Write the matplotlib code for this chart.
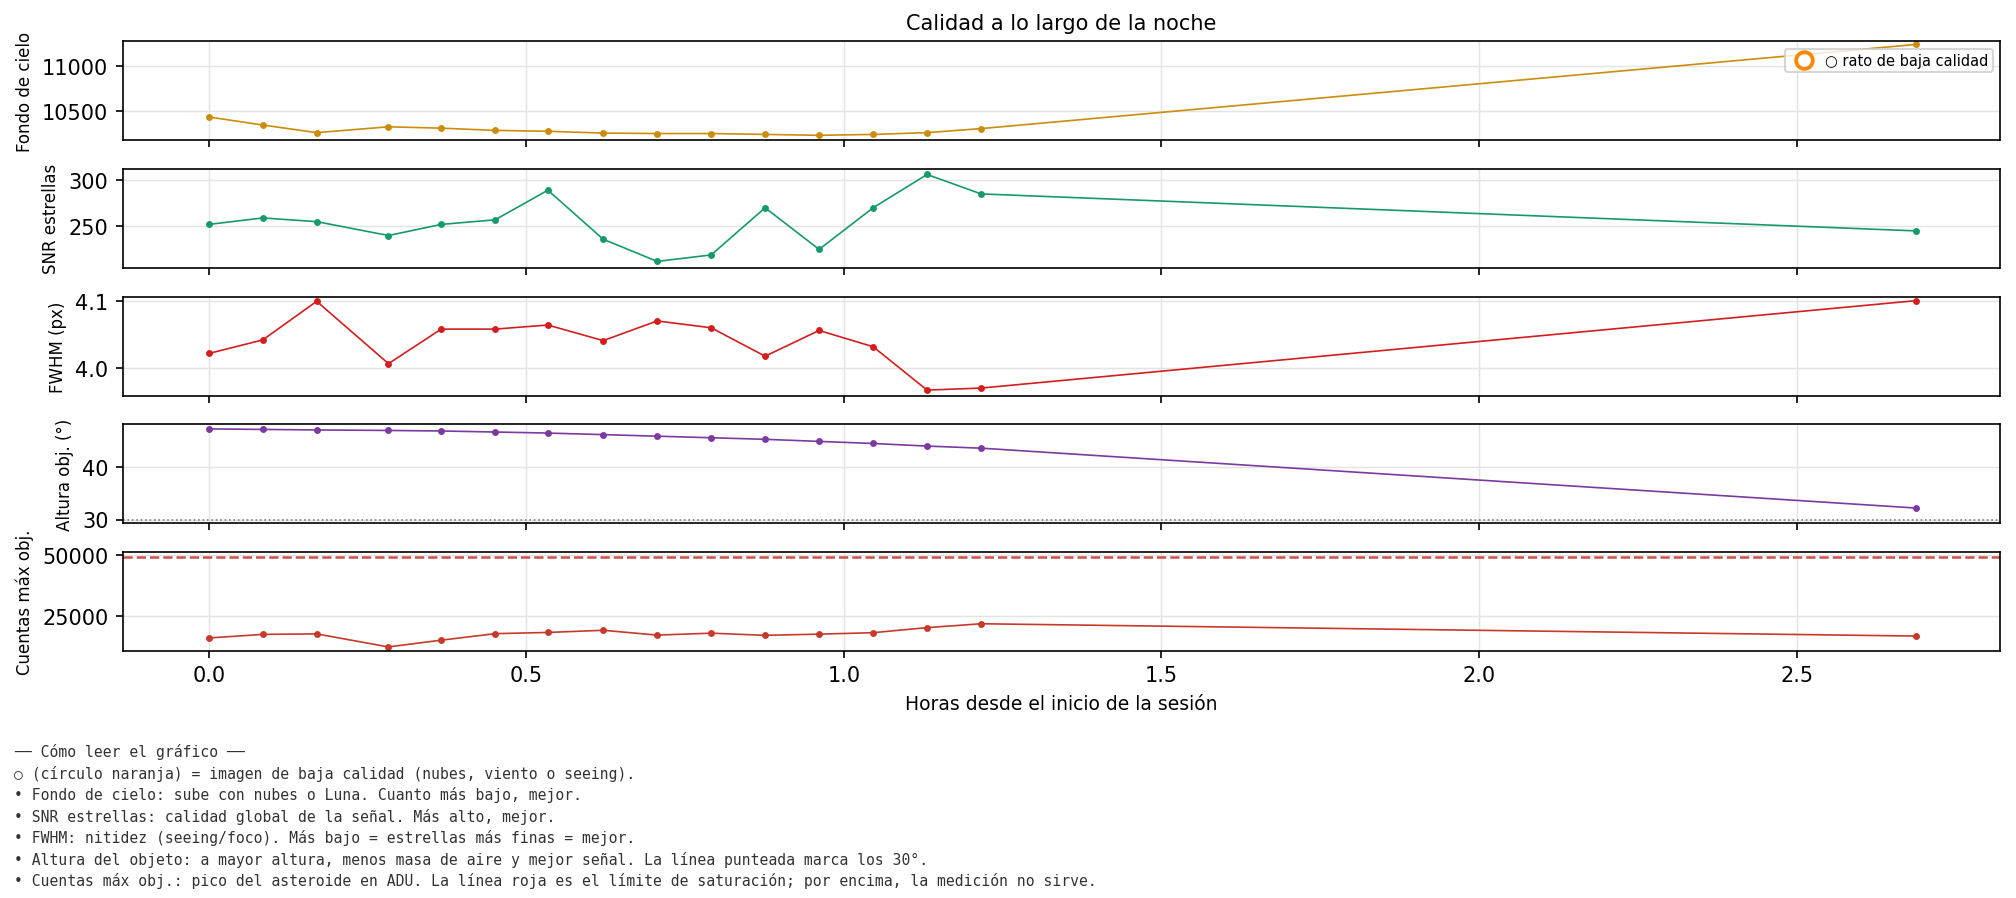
import matplotlib
matplotlib.use("Agg")
import matplotlib.pyplot as plt
from matplotlib.lines import Line2D

# horas desde el inicio
horas = [0, 0.085, 0.17, 0.283, 0.366, 0.451, 0.534, 0.621, 0.706, 0.791,
         0.876, 0.961, 1.046, 1.131, 1.216, 2.688]
fondo = [10430, 10340, 10255, 10320, 10305, 10280, 10270, 10250, 10245, 10245,
         10235, 10225, 10235, 10255, 10300, 11240]
snr = [252, 259, 255, 240, 252, 257, 289, 236, 212, 219, 270, 225, 270, 306, 285, 245]
fwhm = [4.022, 4.042, 4.099, 4.007, 4.058, 4.058, 4.064, 4.041, 4.070, 4.060,
        4.018, 4.056, 4.032, 3.968, 3.971, 4.100]
altura = [47.4, 47.3, 47.2, 47.1, 47.0, 46.8, 46.6, 46.3, 46.0, 45.7,
          45.4, 45.0, 44.6, 44.1, 43.7, 32.2]
cuentas = [15800, 17300, 17500, 12100, 14900, 17600, 18100, 19000, 17000, 17800,
           16900, 17400, 18000, 20100, 21700, 16600]

paneles = [
    (fondo, "Fondo de cielo", "#cc8c0c", (10170, 11275)),
    (snr, "SNR estrellas", "#179a6a", (205, 312)),
    (fwhm, "FWHM (px)", "#d41e1e", (3.96, 4.106)),
    (altura, "Altura obj. (°)", "#7a3aa0", (29.3, 48.3)),
    (cuentas, "Cuentas máx obj.", "#c63a2c", (10500, 51500)),
]

fig, axes = plt.subplots(5, 1, figsize=(13.44, 5.993), dpi=150, sharex=True)
fig.subplots_adjust(left=0.061, right=0.992, top=0.953, bottom=0.275, hspace=0.29)

for ax, (vals, lab, col, yl) in zip(axes, paneles):
    ax.plot(horas, vals, color=col, lw=0.8, marker="o", ms=2.3)
    ax.set_ylabel(lab, fontsize=8)
    ax.set_ylim(*yl)
    ax.grid(True, color="#e4e4e4", lw=0.7)
    ax.set_axisbelow(True)

axes[0].set_yticks([10500, 11000])
axes[1].set_yticks([250, 300])
axes[2].set_yticks([4.0, 4.1])
axes[3].set_yticks([30, 40])
axes[4].set_yticks([25000, 50000])
axes[3].axhline(30, color="gray", ls=":", lw=0.8)
axes[4].axhline(49500, color="#d0504a", ls="--", lw=1.2)

axes[0].set_title("Calidad a lo largo de la noche", fontsize=10)
h = Line2D([], [], ls="none", marker="o", ms=8, mfc="none", mec="#ff8800", mew=1.8)
axes[0].legend([h], ["○ rato de baja calidad"], loc="upper right", fontsize=7,
               handletextpad=0.4, borderpad=0.3)
axes[4].set_xlabel("Horas desde el inicio de la sesión", fontsize=9)
axes[4].set_xlim(-0.135, 2.82)

nota = ("── Cómo leer el gráfico ──\n"
        "○ (círculo naranja) = imagen de baja calidad (nubes, viento o seeing).\n"
        "• Fondo de cielo: sube con nubes o Luna. Cuanto más bajo, mejor.\n"
        "• SNR estrellas: calidad global de la señal. Más alto, mejor.\n"
        "• FWHM: nitidez (seeing/foco). Más bajo = estrellas más finas = mejor.\n"
        "• Altura del objeto: a mayor altura, menos masa de aire y mejor señal. La línea punteada marca los 30°.\n"
        "• Cuentas máx obj.: pico del asteroide en ADU. La línea roja es el límite de saturación; por encima, la medición no sirve.")
fig.text(0.007, 0.172, nota, family="DejaVu Sans Mono", fontsize=7.1, va="top",
         color="#333333", linespacing=1.42)

fig.savefig("out.png", dpi=150)
